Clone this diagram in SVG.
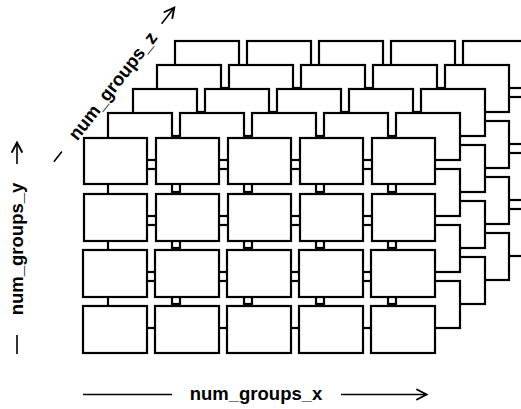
<svg xmlns="http://www.w3.org/2000/svg" width="521" height="409" viewBox="0 0 521 409">
<style>
.box{fill:#fff;stroke:#000;stroke-width:2.2}
.lab{font-family:"Liberation Sans",Arial,Helvetica,sans-serif;font-weight:bold;font-size:18.5px;text-anchor:middle;fill:#000}
.ax{stroke:#000;stroke-width:1.6;fill:none}
.ah{stroke:#000;stroke-width:1.9;fill:none;stroke-linecap:round;stroke-linejoin:miter}
</style>
<rect width="521" height="409" fill="#fff"/>
<g id="layer5">
<g id="l5r1c1"><rect class="box" x="175" y="41" width="64" height="47"/></g>
<g id="l5r1c2"><rect class="box" x="247" y="41" width="64" height="47"/></g>
<g id="l5r1c3"><rect class="box" x="319" y="41" width="64" height="47"/></g>
<g id="l5r1c4"><rect class="box" x="391" y="41" width="64" height="47"/></g>
<g id="l5r1c5"><rect class="box" x="463" y="41" width="64" height="47"/></g>
<g id="l5r2c1"><rect class="box" x="175" y="97" width="64" height="47"/></g>
<g id="l5r2c2"><rect class="box" x="247" y="97" width="64" height="47"/></g>
<g id="l5r2c3"><rect class="box" x="319" y="97" width="64" height="47"/></g>
<g id="l5r2c4"><rect class="box" x="391" y="97" width="64" height="47"/></g>
<g id="l5r2c5"><rect class="box" x="463" y="97" width="64" height="47"/></g>
<g id="l5r3c1"><rect class="box" x="175" y="153" width="64" height="47"/></g>
<g id="l5r3c2"><rect class="box" x="247" y="153" width="64" height="47"/></g>
<g id="l5r3c3"><rect class="box" x="319" y="153" width="64" height="47"/></g>
<g id="l5r3c4"><rect class="box" x="391" y="153" width="64" height="47"/></g>
<g id="l5r3c5"><rect class="box" x="463" y="153" width="64" height="47"/></g>
<g id="l5r4c1"><rect class="box" x="175" y="209" width="64" height="47"/></g>
<g id="l5r4c2"><rect class="box" x="247" y="209" width="64" height="47"/></g>
<g id="l5r4c3"><rect class="box" x="319" y="209" width="64" height="47"/></g>
<g id="l5r4c4"><rect class="box" x="391" y="209" width="64" height="47"/></g>
<g id="l5r4c5"><rect class="box" x="463" y="209" width="64" height="47"/></g>
</g>
<g id="layer4">
<g id="l4r1c1"><rect class="box" x="157" y="65" width="64" height="47"/></g>
<g id="l4r1c2"><rect class="box" x="229" y="65" width="64" height="47"/></g>
<g id="l4r1c3"><rect class="box" x="301" y="65" width="64" height="47"/></g>
<g id="l4r1c4"><rect class="box" x="373" y="65" width="64" height="47"/></g>
<g id="l4r1c5"><rect class="box" x="445" y="65" width="64" height="47"/></g>
<g id="l4r2c1"><rect class="box" x="157" y="121" width="64" height="47"/></g>
<g id="l4r2c2"><rect class="box" x="229" y="121" width="64" height="47"/></g>
<g id="l4r2c3"><rect class="box" x="301" y="121" width="64" height="47"/></g>
<g id="l4r2c4"><rect class="box" x="373" y="121" width="64" height="47"/></g>
<g id="l4r2c5"><rect class="box" x="445" y="121" width="64" height="47"/></g>
<g id="l4r3c1"><rect class="box" x="157" y="177" width="64" height="47"/></g>
<g id="l4r3c2"><rect class="box" x="229" y="177" width="64" height="47"/></g>
<g id="l4r3c3"><rect class="box" x="301" y="177" width="64" height="47"/></g>
<g id="l4r3c4"><rect class="box" x="373" y="177" width="64" height="47"/></g>
<g id="l4r3c5"><rect class="box" x="445" y="177" width="64" height="47"/></g>
<g id="l4r4c1"><rect class="box" x="157" y="233" width="64" height="47"/></g>
<g id="l4r4c2"><rect class="box" x="229" y="233" width="64" height="47"/></g>
<g id="l4r4c3"><rect class="box" x="301" y="233" width="64" height="47"/></g>
<g id="l4r4c4"><rect class="box" x="373" y="233" width="64" height="47"/></g>
<g id="l4r4c5"><rect class="box" x="445" y="233" width="64" height="47"/></g>
</g>
<g id="layer3">
<g id="l3r1c1"><rect class="box" x="133" y="89" width="64" height="47"/></g>
<g id="l3r1c2"><rect class="box" x="205" y="89" width="64" height="47"/></g>
<g id="l3r1c3"><rect class="box" x="277" y="89" width="64" height="47"/></g>
<g id="l3r1c4"><rect class="box" x="349" y="89" width="64" height="47"/></g>
<g id="l3r1c5"><rect class="box" x="421" y="89" width="64" height="47"/></g>
<g id="l3r2c1"><rect class="box" x="133" y="145" width="64" height="47"/></g>
<g id="l3r2c2"><rect class="box" x="205" y="145" width="64" height="47"/></g>
<g id="l3r2c3"><rect class="box" x="277" y="145" width="64" height="47"/></g>
<g id="l3r2c4"><rect class="box" x="349" y="145" width="64" height="47"/></g>
<g id="l3r2c5"><rect class="box" x="421" y="145" width="64" height="47"/></g>
<g id="l3r3c1"><rect class="box" x="133" y="201" width="64" height="47"/></g>
<g id="l3r3c2"><rect class="box" x="205" y="201" width="64" height="47"/></g>
<g id="l3r3c3"><rect class="box" x="277" y="201" width="64" height="47"/></g>
<g id="l3r3c4"><rect class="box" x="349" y="201" width="64" height="47"/></g>
<g id="l3r3c5"><rect class="box" x="421" y="201" width="64" height="47"/></g>
<g id="l3r4c1"><rect class="box" x="133" y="257" width="64" height="47"/></g>
<g id="l3r4c2"><rect class="box" x="205" y="257" width="64" height="47"/></g>
<g id="l3r4c3"><rect class="box" x="277" y="257" width="64" height="47"/></g>
<g id="l3r4c4"><rect class="box" x="349" y="257" width="64" height="47"/></g>
<g id="l3r4c5"><rect class="box" x="421" y="257" width="64" height="47"/></g>
</g>
<g id="layer2">
<g id="l2r1c1"><rect class="box" x="108" y="113" width="64" height="47"/></g>
<g id="l2r1c2"><rect class="box" x="180" y="113" width="64" height="47"/></g>
<g id="l2r1c3"><rect class="box" x="252" y="113" width="64" height="47"/></g>
<g id="l2r1c4"><rect class="box" x="324" y="113" width="64" height="47"/></g>
<g id="l2r1c5"><rect class="box" x="396" y="113" width="64" height="47"/></g>
<g id="l2r2c1"><rect class="box" x="108" y="169" width="64" height="47"/></g>
<g id="l2r2c2"><rect class="box" x="180" y="169" width="64" height="47"/></g>
<g id="l2r2c3"><rect class="box" x="252" y="169" width="64" height="47"/></g>
<g id="l2r2c4"><rect class="box" x="324" y="169" width="64" height="47"/></g>
<g id="l2r2c5"><rect class="box" x="396" y="169" width="64" height="47"/></g>
<g id="l2r3c1"><rect class="box" x="108" y="225" width="64" height="47"/></g>
<g id="l2r3c2"><rect class="box" x="180" y="225" width="64" height="47"/></g>
<g id="l2r3c3"><rect class="box" x="252" y="225" width="64" height="47"/></g>
<g id="l2r3c4"><rect class="box" x="324" y="225" width="64" height="47"/></g>
<g id="l2r3c5"><rect class="box" x="396" y="225" width="64" height="47"/></g>
<g id="l2r4c1"><rect class="box" x="108" y="281" width="64" height="47"/></g>
<g id="l2r4c2"><rect class="box" x="180" y="281" width="64" height="47"/></g>
<g id="l2r4c3"><rect class="box" x="252" y="281" width="64" height="47"/></g>
<g id="l2r4c4"><rect class="box" x="324" y="281" width="64" height="47"/></g>
<g id="l2r4c5"><rect class="box" x="396" y="281" width="64" height="47"/></g>
</g>
<g id="layer1">
<g id="l1r1c1"><rect class="box" x="84" y="138" width="63" height="46"/></g>
<g id="l1r1c2"><rect class="box" x="156" y="138" width="63" height="46"/></g>
<g id="l1r1c3"><rect class="box" x="228" y="138" width="63" height="46"/></g>
<g id="l1r1c4"><rect class="box" x="300" y="138" width="63" height="46"/></g>
<g id="l1r1c5"><rect class="box" x="372" y="138" width="63" height="46"/></g>
<g id="l1r2c1"><rect class="box" x="84" y="194" width="63" height="47"/></g>
<g id="l1r2c2"><rect class="box" x="156" y="194" width="63" height="47"/></g>
<g id="l1r2c3"><rect class="box" x="228" y="194" width="63" height="47"/></g>
<g id="l1r2c4"><rect class="box" x="300" y="194" width="63" height="47"/></g>
<g id="l1r2c5"><rect class="box" x="372" y="194" width="63" height="47"/></g>
<g id="l1r3c1"><rect class="box" x="83" y="250" width="64" height="47"/></g>
<g id="l1r3c2"><rect class="box" x="155" y="250" width="64" height="47"/></g>
<g id="l1r3c3"><rect class="box" x="227" y="250" width="64" height="47"/></g>
<g id="l1r3c4"><rect class="box" x="299" y="250" width="64" height="47"/></g>
<g id="l1r3c5"><rect class="box" x="371" y="250" width="64" height="47"/></g>
<g id="l1r4c1"><rect class="box" x="83" y="306" width="64" height="47"/></g>
<g id="l1r4c2"><rect class="box" x="155" y="306" width="64" height="47"/></g>
<g id="l1r4c3"><rect class="box" x="227" y="306" width="64" height="47"/></g>
<g id="l1r4c4"><rect class="box" x="299" y="306" width="64" height="47"/></g>
<g id="l1r4c5"><rect class="box" x="371" y="306" width="64" height="47"/></g>
</g>
<g id="axis-x">
<line class="ax" x1="83" y1="394.5" x2="172" y2="394.5"/>
<text class="lab" x="256" y="400">num_groups_x</text>
<line class="ax" x1="341" y1="394.5" x2="426" y2="394.5"/>
<polyline class="ah" points="417,389.5 426.5,394.5 417,399.5"/>
</g>
<g id="axis-y" transform="translate(17,249) rotate(-90)">
<line class="ax" x1="-105" y1="0" x2="-86" y2="0"/>
<text class="lab" x="0" y="6">num_groups_y</text>
<line class="ax" x1="85" y1="0" x2="106" y2="0"/>
<polyline class="ah" points="97,-5 106.5,0 97,5"/>
</g>
<g id="axis-z" transform="translate(113,86) rotate(-52)">
<line class="ax" x1="-96" y1="0" x2="-83" y2="0"/>
<text class="lab" x="0" y="6">num_groups_z</text>
<line class="ax" x1="79" y1="0" x2="99" y2="0"/>
<polyline class="ah" points="90,-5 99.5,0 90,5"/>
</g>
</svg>
